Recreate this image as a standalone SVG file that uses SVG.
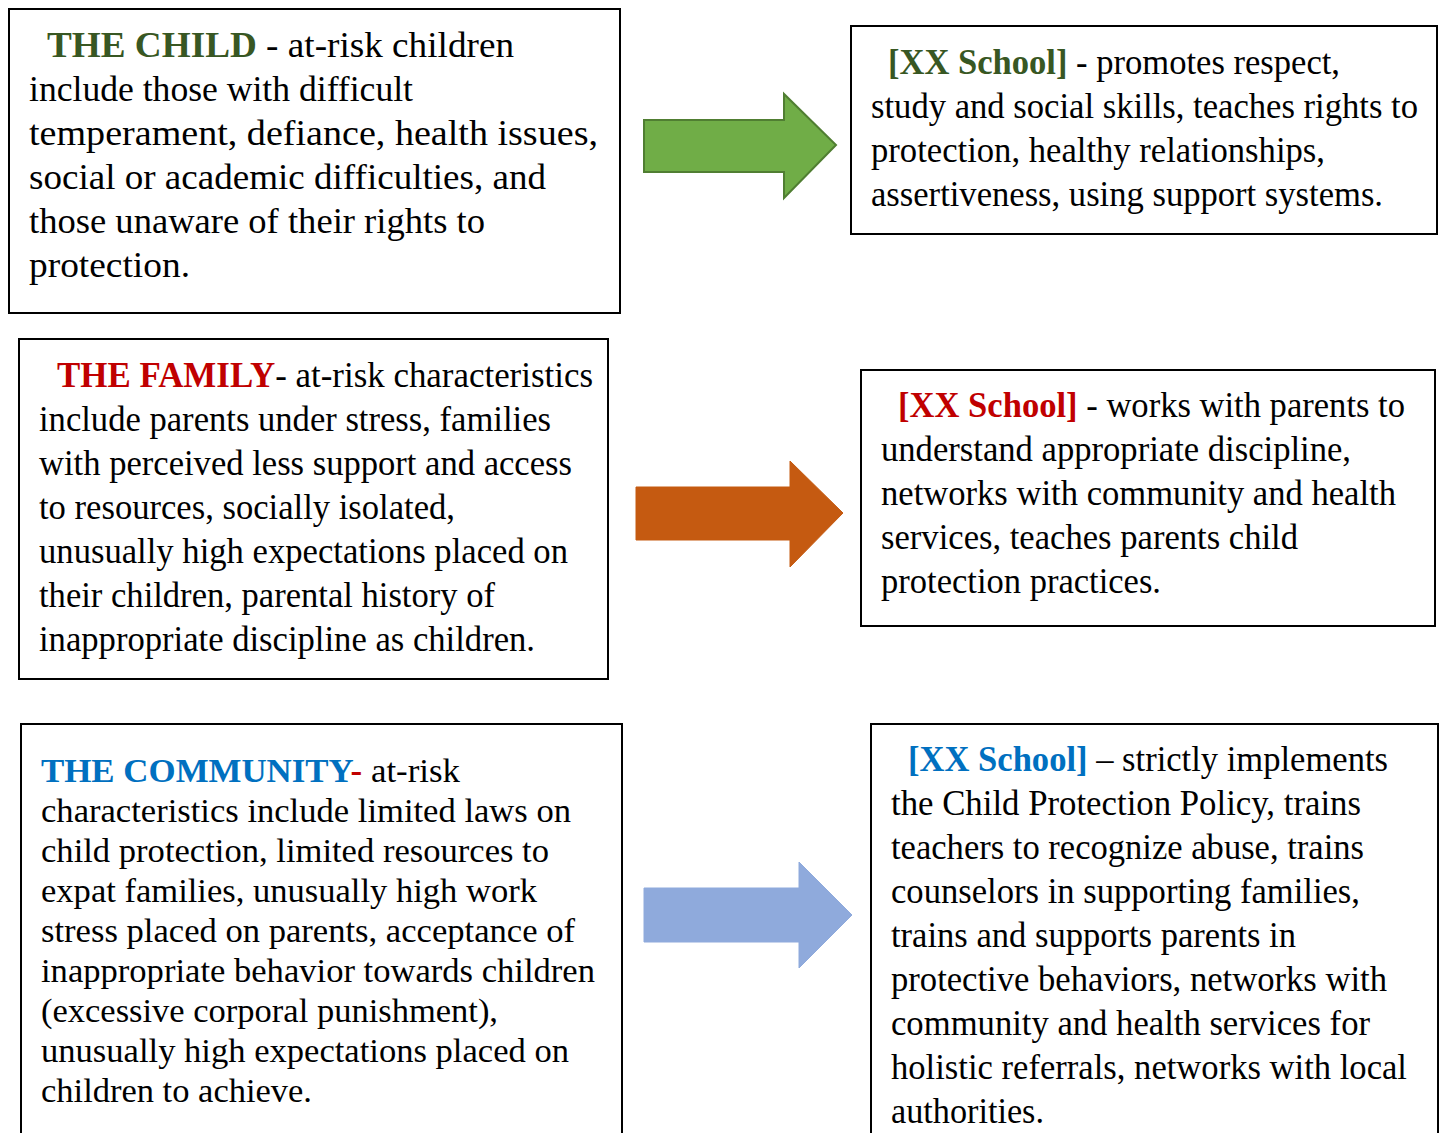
<svg xmlns="http://www.w3.org/2000/svg" width="1441" height="1133" viewBox="0 0 1441 1133">
  <style>
    .box { fill: #ffffff; stroke: #000000; stroke-width: 2; }
    .t { font-family: "Liberation Serif", "Times New Roman", serif; font-size: 35px; fill: #000000; }
    .t5 { font-size: 34px; }
    .hg { font-weight: bold; fill: #385723; }
    .hr { font-weight: bold; fill: #C00000; }
    .hb { font-weight: bold; fill: #0070C0; }
    .arrow-green { fill: #70AD47; stroke: #507E32; stroke-width: 2; }
    .arrow-orange { fill: #C55A11; stroke: #C55A11; stroke-width: 1; }
    .arrow-blue { fill: #8FAADC; stroke: #8FAADC; stroke-width: 1; }
  </style>
  <rect x="0" y="0" width="1441" height="1133" fill="#ffffff"/>

  <!-- Child risk factors -->
  <g id="child">
    <rect class="box" x="9" y="9" width="611" height="304"/>
    <text class="t" x="47" y="57" textLength="467" lengthAdjust="spacingAndGlyphs"><tspan class="hg">THE CHILD</tspan> - at-risk children</text>
    <text class="t" x="29" y="101" textLength="384" lengthAdjust="spacingAndGlyphs">include those with difficult</text>
    <text class="t" x="29" y="145" textLength="569" lengthAdjust="spacingAndGlyphs">temperament, defiance, health issues,</text>
    <text class="t" x="29" y="189" textLength="517" lengthAdjust="spacingAndGlyphs">social or academic difficulties, and</text>
    <text class="t" x="29" y="233" textLength="456" lengthAdjust="spacingAndGlyphs">those unaware of their rights to</text>
    <text class="t" x="29" y="277" textLength="161" lengthAdjust="spacingAndGlyphs">protection.</text>
  </g>

  <!-- School response: child -->
  <g id="school-child">
    <rect class="box" x="851" y="26" width="586" height="208"/>
    <text class="t" x="888" y="74" textLength="452" lengthAdjust="spacingAndGlyphs"><tspan class="hg">[XX School]</tspan> - promotes respect,</text>
    <text class="t" x="871" y="118" textLength="547" lengthAdjust="spacingAndGlyphs">study and social skills, teaches rights to</text>
    <text class="t" x="871" y="162" textLength="454" lengthAdjust="spacingAndGlyphs">protection, healthy relationships,</text>
    <text class="t" x="871" y="206" textLength="512" lengthAdjust="spacingAndGlyphs">assertiveness, using support systems.</text>
  </g>

  <!-- Family risk factors -->
  <g id="family">
    <rect class="box" x="19" y="339" width="589" height="340"/>
    <text class="t" x="57" y="387" textLength="536" lengthAdjust="spacingAndGlyphs"><tspan class="hr">THE FAMILY</tspan>- at-risk characteristics</text>
    <text class="t" x="39" y="431" textLength="512" lengthAdjust="spacingAndGlyphs">include parents under stress, families</text>
    <text class="t" x="39" y="475" textLength="533" lengthAdjust="spacingAndGlyphs">with perceived less support and access</text>
    <text class="t" x="39" y="519" textLength="416" lengthAdjust="spacingAndGlyphs">to resources, socially isolated,</text>
    <text class="t" x="39" y="563" textLength="529" lengthAdjust="spacingAndGlyphs">unusually high expectations placed on</text>
    <text class="t" x="39" y="607" textLength="456" lengthAdjust="spacingAndGlyphs">their children, parental history of</text>
    <text class="t" x="39" y="651" textLength="496" lengthAdjust="spacingAndGlyphs">inappropriate discipline as children.</text>
  </g>

  <!-- School response: family -->
  <g id="school-family">
    <rect class="box" x="861" y="370" width="574" height="256"/>
    <text class="t" x="898" y="417" textLength="507" lengthAdjust="spacingAndGlyphs"><tspan class="hr">[XX School]</tspan> - works with parents to</text>
    <text class="t" x="881" y="461" textLength="470" lengthAdjust="spacingAndGlyphs">understand appropriate discipline,</text>
    <text class="t" x="881" y="505" textLength="515" lengthAdjust="spacingAndGlyphs">networks with community and health</text>
    <text class="t" x="881" y="549" textLength="417" lengthAdjust="spacingAndGlyphs">services, teaches parents child</text>
    <text class="t" x="881" y="593" textLength="280" lengthAdjust="spacingAndGlyphs">protection practices.</text>
  </g>

  <!-- Community risk factors -->
  <g id="community">
    <rect class="box" x="21" y="724" width="601" height="420"/>
    <text class="t t5" x="41" y="782" textLength="419" lengthAdjust="spacingAndGlyphs"><tspan class="hb">THE COMMUNITY</tspan><tspan class="hr">-</tspan> at-risk</text>
    <text class="t t5" x="41" y="822" textLength="530" lengthAdjust="spacingAndGlyphs">characteristics include limited laws on</text>
    <text class="t t5" x="41" y="862" textLength="508" lengthAdjust="spacingAndGlyphs">child protection, limited resources to</text>
    <text class="t t5" x="41" y="902" textLength="496" lengthAdjust="spacingAndGlyphs">expat families, unusually high work</text>
    <text class="t t5" x="41" y="942" textLength="534" lengthAdjust="spacingAndGlyphs">stress placed on parents, acceptance of</text>
    <text class="t t5" x="41" y="982" textLength="554" lengthAdjust="spacingAndGlyphs">inappropriate behavior towards children</text>
    <text class="t t5" x="41" y="1022" textLength="457" lengthAdjust="spacingAndGlyphs">(excessive corporal punishment),</text>
    <text class="t t5" x="41" y="1062" textLength="528" lengthAdjust="spacingAndGlyphs">unusually high expectations placed on</text>
    <text class="t t5" x="41" y="1102" textLength="271" lengthAdjust="spacingAndGlyphs">children to achieve.</text>
  </g>

  <!-- School response: community -->
  <g id="school-community">
    <rect class="box" x="871" y="724" width="567" height="420"/>
    <text class="t" x="908" y="771" textLength="480" lengthAdjust="spacingAndGlyphs"><tspan class="hb">[XX School]</tspan> – strictly implements</text>
    <text class="t" x="891" y="815" textLength="470" lengthAdjust="spacingAndGlyphs">the Child Protection Policy, trains</text>
    <text class="t" x="891" y="859" textLength="473" lengthAdjust="spacingAndGlyphs">teachers to recognize abuse, trains</text>
    <text class="t" x="891" y="903" textLength="469" lengthAdjust="spacingAndGlyphs">counselors in supporting families,</text>
    <text class="t" x="891" y="947" textLength="405" lengthAdjust="spacingAndGlyphs">trains and supports parents in</text>
    <text class="t" x="891" y="991" textLength="496" lengthAdjust="spacingAndGlyphs">protective behaviors, networks with</text>
    <text class="t" x="891" y="1035" textLength="479" lengthAdjust="spacingAndGlyphs">community and health services for</text>
    <text class="t" x="891" y="1079" textLength="516" lengthAdjust="spacingAndGlyphs">holistic referrals, networks with local</text>
    <text class="t" x="891" y="1123" textLength="153" lengthAdjust="spacingAndGlyphs">authorities.</text>
  </g>

  <!-- Block arrows linking each risk area to the school response -->
  <g id="connectors">
    <path class="arrow-green" d="M644,120 H784 V94 L836,145 L784,198 V172 H644 Z"/>
    <path class="arrow-orange" d="M636,487 H790 V461 L843,513 L790,567 V540 H636 Z"/>
    <path class="arrow-blue" d="M644,888 H799 V862 L852,915 L799,968 V942 H644 Z"/>
  </g>
</svg>
